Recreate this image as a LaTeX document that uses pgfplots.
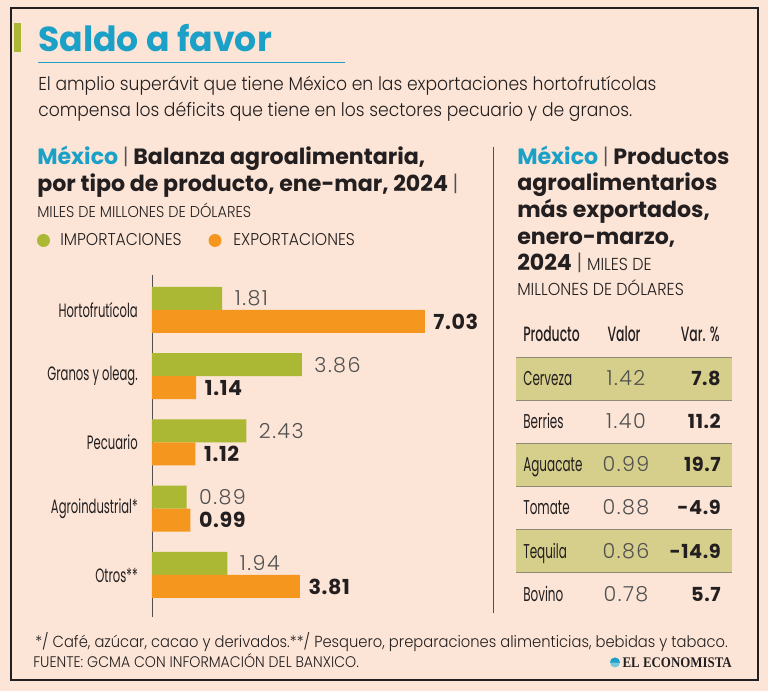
\documentclass[border=0pt]{standalone}
\usepackage{fontspec}
\usepackage{pgfplots}
\pgfplotsset{compat=1.18}

\setmainfont{Poppins Light}[FakeStretch=0.92]
\newfontfamily\fbold{Poppins Bold}
\newfontfamily\fnum{Poppins Light}[LetterSpace=7]
\newfontfamily\fnumb{Poppins Bold}[LetterSpace=3]
\newfontfamily\fcond[FakeStretch=0.6]{Poppins}
\newfontfamily\fcondm[FakeStretch=0.6]{Poppins Medium}
\newfontfamily\fser[FakeStretch=0.88]{Liberation Serif Bold}
\newcommand\vsep{{\fontspec{Poppins Light}\textcolor{lgt}{|}}}

\definecolor{bgc}{HTML}{FCE5D6}
\definecolor{grn}{HTML}{AAB833}
\definecolor{org}{HTML}{F5971F}
\definecolor{ttl}{HTML}{1BA0C8}
\definecolor{txt}{HTML}{231F20}
\definecolor{lgt}{HTML}{505050}
\definecolor{band}{HTML}{D6CF8B}
\definecolor{sep}{HTML}{8E8A76}

\begin{document}
\begin{tikzpicture}[x=0.75pt,y=-0.75pt]
\fill[bgc] (0,0) rectangle (768,691);
\draw[line width=2.2pt, txt] (11,8) rectangle (758,680);

% title block
\fill[grn] (14,23) rectangle (21,52);
\node[anchor=base west, inner sep=0, text=ttl, font=\fbold\fontsize{26}{30}\selectfont] at (38,52) {Saldo a favor};
\draw[ttl, line width=0.6pt] (38,62) -- (345,62);
\node[anchor=base west, inner sep=0, text=txt, font=\fontsize{14}{17}\selectfont] at (38,91)
  {El amplio superávit que tiene México en las exportaciones hortofrutícolas};
\node[anchor=base west, inner sep=0, text=txt, font=\fontsize{14}{17}\selectfont] at (38,117)
  {compensa los déficits que tiene en los sectores pecuario y de granos.};

% left heading
\node[anchor=base west, inner sep=0, text=txt, font=\fbold\fontsize{16.6}{19}\selectfont] at (37,165)
  {\textcolor{ttl}{México} \vsep{} Balanza agroalimentaria,};
\node[anchor=base west, inner sep=0, text=txt, font=\fbold\fontsize{16.6}{19}\selectfont] at (37,192)
  {por tipo de producto, ene-mar, 2024 \vsep};
\node[anchor=base west, inner sep=0, text=txt, font=\fontsize{11.8}{14}\selectfont] at (37,218)
  {MILES DE MILLONES DE DÓLARES};
\fill[grn] (43.5,240.5) circle (6.5);
\node[anchor=base west, inner sep=0, text=txt, font=\fontsize{12.8}{15}\selectfont] at (60,246) {IMPORTACIONES};
\fill[org] (215,240.5) circle (6.5);
\node[anchor=base west, inner sep=0, text=txt, font=\fontsize{12.8}{15}\selectfont] at (233,246) {EXPORTACIONES};

% divider
\draw[lgt, line width=0.6pt] (493,147) -- (493,613);

% bar chart
\begin{axis}[
  at={(114pt,-462.75pt)}, anchor=south west,
  scale only axis, width=252pt, height=256.5pt,
  xmin=0, xmax=8.66, ymin=-0.634, ymax=4.528,
  xbar, bar width=17.25pt,
  axis x line=none, axis y line*=left,
  y axis line style={draw=lgt, line width=0.6pt},
  ytick={0,1,2,3,4},
  yticklabels={Otros**, Agroindustrial*, Pecuario, Granos y oleag., Hortofrutícola},
  major tick length=0pt,
  yticklabel style={anchor=east, inner sep=0pt, xshift=-10.5pt, text=txt,
    font=\fcond\fontsize{14.5}{16}\selectfont},
  point meta=x,
  clip=false,
]
\addplot[fill=grn, draw=none, bar shift=8.625pt,
  nodes near coords={\pgfmathprintnumber[fixed,fixed zerofill,precision=2,assume math mode=true]{\pgfplotspointmeta}},
  every node near coord/.append style={anchor=west, xshift=6pt, text=lgt, font=\fnum\fontsize{15.5}{16}\selectfont}]
  coordinates {(1.81,4) (3.86,3) (2.43,2) (0.89,1) (1.94,0)};
\addplot[fill=org, draw=none, bar shift=-8.625pt,
  nodes near coords={\pgfmathprintnumber[fixed,fixed zerofill,precision=2,assume math mode=true]{\pgfplotspointmeta}},
  every node near coord/.append style={anchor=west, xshift=3pt, text=txt, font=\fnumb\fontsize{15.5}{16}\selectfont}]
  coordinates {(7.03,4) (1.14,3) (1.12,2) (0.99,1) (3.81,0)};
\end{axis}

% right heading
\begin{scope}[every node/.style={anchor=base west, inner sep=0, text=txt, font=\fbold\fontsize{16.6}{19}\selectfont}]
\node at (517,165) {\textcolor{ttl}{México} \vsep{} Productos};
\node at (517,191) {agroalimentarios};
\node at (517,218) {más exportados,};
\node at (517,245) {enero-marzo,};
\node at (517,271) {2024 \vsep{} {\normalfont\fontsize{13}{15}\selectfont MILES DE}};
\node[font=\fontsize{13}{15}\selectfont] at (517,296) {MILLONES DE DÓLARES};
\end{scope}

% table
\foreach \k in {0,2,4} {\fill[band] (516,{357+43*\k}) rectangle (732,{400+43*\k});}
\foreach \k in {0,...,5} {\draw[sep, line width=0.6pt] (516,{357+43*\k}) -- (732,{357+43*\k});}
\begin{scope}[every node/.style={inner sep=0, text=txt}]
\node[anchor=base west, font=\fcondm\fontsize{15.5}{17}\selectfont] at (523,342) {Producto};
\node[anchor=base, font=\fcondm\fontsize{15.5}{17}\selectfont] at (624,342) {Valor};
\node[anchor=base east, font=\fcondm\fontsize{15.5}{17}\selectfont] at (720,342) {Var. \%};
\foreach \n/\v/\p [count=\i from 0] in {Cerveza/1.42/7.8, Berries/1.40/11.2, Aguacate/0.99/19.7,
    Tomate/0.88/-4.9, Tequila/0.86/-14.9, Bovino/0.78/5.7} {
  \node[anchor=base west, font=\fcond\fontsize{15}{17}\selectfont] at (523,{386+43*\i}) {\n};
  \node[anchor=base, text=lgt, font=\fnum\fontsize{15.5}{17}\selectfont] at (626,{386+43*\i}) {\v};
  \node[anchor=base east, font=\fnumb\fontsize{14.5}{17}\selectfont] at (721,{386+43*\i}) {\p};
}
\end{scope}

% footer
\node[anchor=base west, inner sep=0, text=txt, font=\fontsize{12}{15}\selectfont] at (35,647)
  {*/ Café, azúcar, cacao y derivados.**/ Pesquero, preparaciones alimenticias, bebidas y tabaco.};
\node[anchor=base west, inner sep=0, text=txt, font=\fontsize{11.5}{13}\selectfont] at (33,667)
  {FUENTE: GCMA CON INFORMACIÓN DEL BANXICO.};
\fill[ttl!60] (615,662.5) circle (5);
\fill[ttl] (615,662.5) ++(-5,0) arc (180:360:5) -- cycle;
\node[anchor=base east, inner sep=0, text=txt, font=\fser\fontsize{11}{13}\selectfont] at (732,667) {EL ECONOMISTA};
\end{tikzpicture}
\end{document}
